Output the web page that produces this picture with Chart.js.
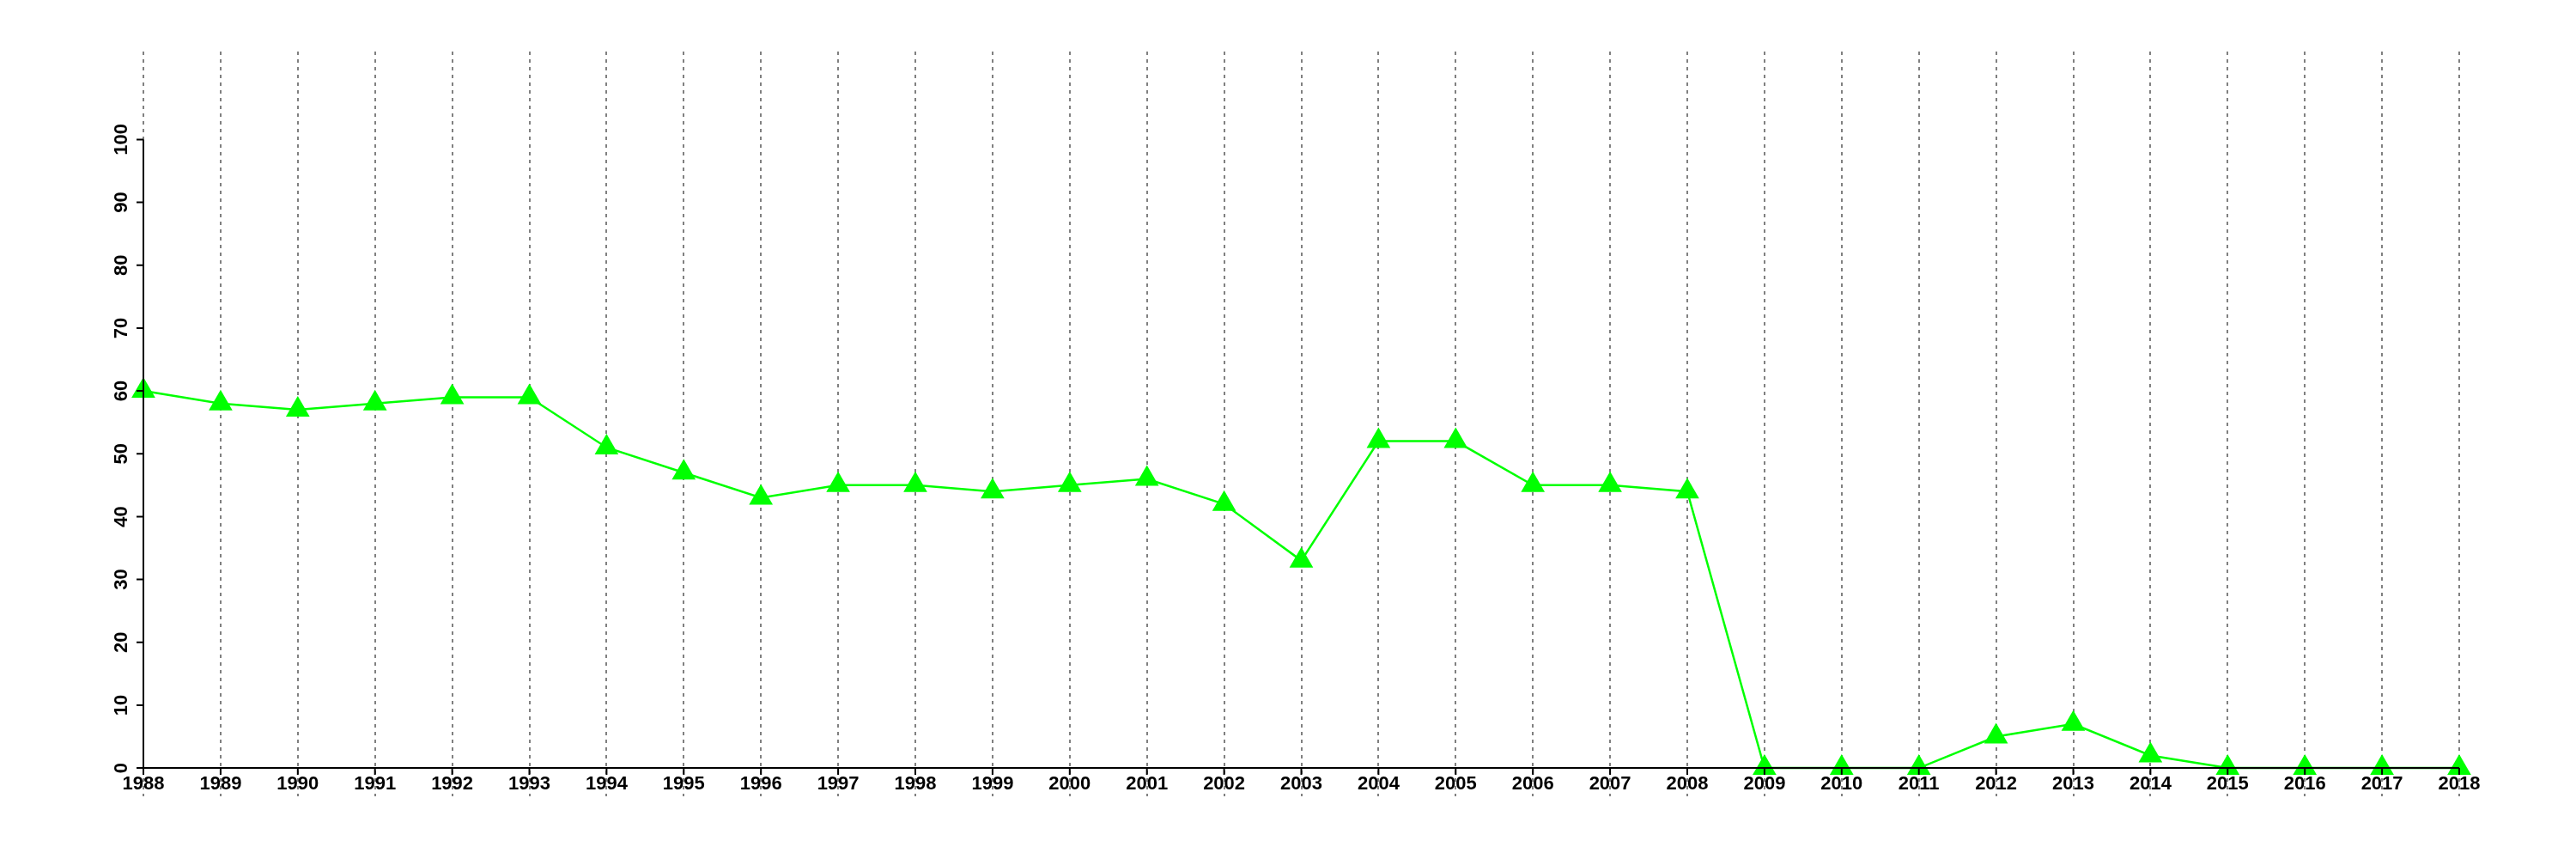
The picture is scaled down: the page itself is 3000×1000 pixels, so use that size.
<!DOCTYPE html>
<html>
<head>
<meta charset="utf-8">
<script src="https://cdn.jsdelivr.net/npm/chart.js@4.4.1/dist/chart.umd.min.js"></script>
<style>
  html, body { margin: 0; padding: 0; background: #fff; }
  #wrap { width: 3000px; height: 1000px; }
</style>
</head>
<body>
<div id="wrap"><canvas id="lineChart" width="3000" height="1000"></canvas></div>
<script>
// данные с картинки
const years = ['1988','1989','1990','1991','1992','1993','1994','1995','1996','1997',
    '1998','1999','2000','2001','2002','2003','2004','2005','2006','2007',
    '2008','2009','2010','2011','2012','2013','2014','2015','2016','2017','2018'];
const values = [60, 58, 57, 58, 59, 59, 51, 47, 43, 45,
    45, 44, 45, 46, 42, 33, 52, 52, 45, 45,
    44, 0, 0, 0, 5, 7, 2, 0, 0, 0, 0];
const yTicks = [0, 10, 20, 30, 40, 50, 60, 70, 80, 90, 100];

const FONT = 'bold 22px "Liberation Sans", Arial, sans-serif';

// пунктирная сетка по годам
const gridPlugin = {
    id: 'grid',
    beforeDatasetsDraw(chart) {
        const { ctx, chartArea, scales: { x } } = chart;
        ctx.save();
        ctx.strokeStyle = '#808080';
        ctx.lineWidth = 2;
        ctx.setLineDash([4, 5]);
        years.forEach((_, i) => {
            const px = Math.round(x.getPixelForValue(i));
            ctx.beginPath();
            ctx.moveTo(px, chartArea.top);
            ctx.lineTo(px, chartArea.bottom);
            ctx.stroke();
        });
        ctx.restore();
    }
};

// оси поверх точек
const axesPlugin = {
    id: 'axes',
    afterDatasetsDraw(chart) {
        const { ctx, scales: { x, y } } = chart;
        const x0 = x.getPixelForValue(0);
        const x1 = x.getPixelForValue(years.length - 1);
        const y0 = y.getPixelForValue(0);
        const yTop = y.getPixelForValue(yTicks[yTicks.length - 1]);
        ctx.save();
        ctx.strokeStyle = '#000';
        ctx.lineWidth = 2;
        ctx.setLineDash([]);

        // ось X
        ctx.beginPath();
        ctx.moveTo(x0, y0);
        ctx.lineTo(x1, y0);
        years.forEach((_, i) => {
            const px = x.getPixelForValue(i);
            ctx.moveTo(px, y0);
            ctx.lineTo(px, y0 + 8);
        });
        ctx.stroke();

        // ось Y
        ctx.beginPath();
        ctx.moveTo(x0, y0);
        ctx.lineTo(x0, yTop);
        yTicks.forEach(v => {
            const py = y.getPixelForValue(v);
            ctx.moveTo(x0, py);
            ctx.lineTo(x0 - 8, py);
        });
        ctx.stroke();

        ctx.fillStyle = '#000';
        ctx.font = FONT;
        ctx.textAlign = 'center';
        ctx.textBaseline = 'middle';
        years.forEach((label, i) => {
            ctx.fillText(label, x.getPixelForValue(i), y0 + 19);
        });

        yTicks.forEach(v => {
            ctx.save();
            ctx.translate(x0 - 25, y.getPixelForValue(v));
            ctx.rotate(-Math.PI / 2);
            ctx.fillText(String(v), 0, 0);
            ctx.restore();
        });
        ctx.restore();
    }
};

new Chart(document.getElementById('lineChart'), {
    type: 'line',
    data: {
        labels: years,
        datasets: [{
            data: values,
            borderColor: '#00ff00',
            borderWidth: 2.5,
            backgroundColor: '#00ff00',
            pointStyle: 'triangle',
            pointRadius: 16,
            pointHoverRadius: 16,
            pointBorderWidth: 0,
            pointBackgroundColor: '#00ff00',
            tension: 0,
            clip: false
        }]
    },
    options: {
        responsive: false,
        devicePixelRatio: 1,
        animation: false,
        layout: { padding: { left: 167, right: 136, top: 60, bottom: 73 } },
        plugins: {
            legend: { display: false },
            tooltip: { enabled: false }
        },
        scales: {
            x: { display: false, offset: false },
            y: { display: false, min: -4.5, max: 114 }
        }
    },
    plugins: [gridPlugin, axesPlugin]
});
</script>
</body>
</html>
